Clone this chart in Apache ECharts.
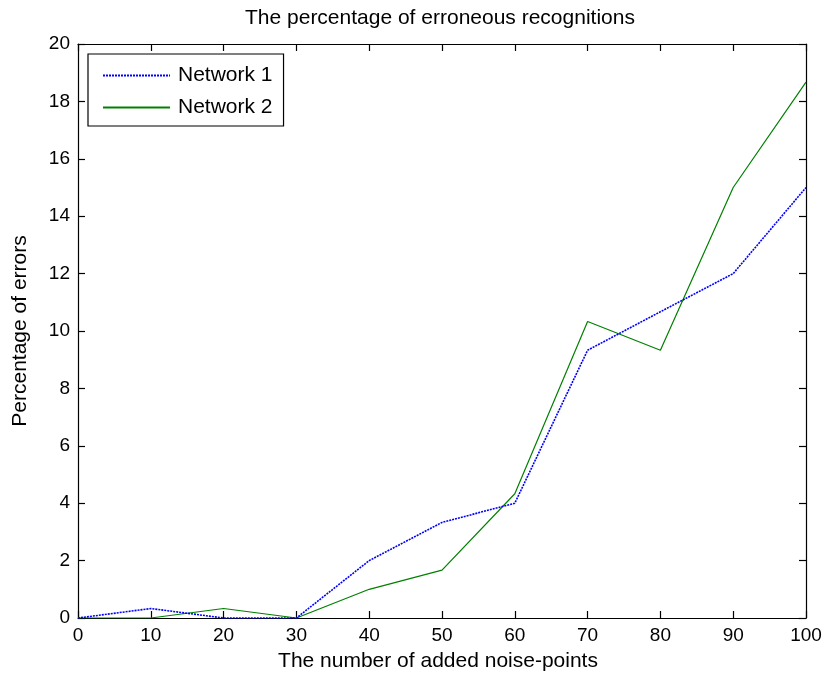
<!DOCTYPE html>
<html>
<head>
<meta charset="utf-8">
<script src="https://cdn.jsdelivr.net/npm/echarts@6/dist/echarts.min.js"></script>
<style>
html,body{margin:0;padding:0;background:#fff;}
#chart{width:827px;height:677px;}
</style>
</head>
<body>
<div id="chart"></div>
<script>
var noisePoints = [0, 10, 20, 30, 40, 50, 60, 70, 80, 90, 100];
var network1 = [0, 0.33, 0, 0, 2.0, 3.33, 4.0, 9.33, 10.67, 12.0, 15.0];
var network2 = [0, 0, 0.33, 0, 1.0, 1.67, 4.33, 10.33, 9.33, 15.0, 18.67];
var seriesNames = ['Network 1', 'Network 2'];
var titleText = 'The percentage of erroneous recognitions';
var xName = 'The number of added noise-points';
var yName = 'Percentage of errors';

function pairs(xs, ys) { return xs.map(function (x, i) { return [x, ys[i]]; }); }

var FONT = 'Liberation Sans, Arial, sans-serif';
var chart = echarts.init(document.getElementById('chart'), null, {renderer: 'canvas'});

var axisCommon = {
  axisLine: {show: true, onZero: false, lineStyle: {color: '#000', width: 1.2}},
  axisTick: {show: true, inside: true, length: 7, lineStyle: {color: '#000', width: 1.2}},
  splitLine: {show: false}
};

chart.setOption({
  animation: false,
  backgroundColor: '#fff',
  title: {
    text: titleText,
    left: 240,
    top: 3,
    textStyle: {fontFamily: FONT, fontSize: 21, fontWeight: 'normal', color: '#000'}
  },
  legend: {
    data: seriesNames,
    orient: 'vertical',
    left: 88,
    top: 54,
    itemWidth: 67,
    itemHeight: 14,
    itemGap: 11,
    padding: [11, 11, 8, 14],
    borderColor: '#000',
    borderWidth: 1.2,
    backgroundColor: '#fff',
    itemStyle: {color: 'rgba(0,0,0,0)', borderWidth: 0, opacity: 0},
    textStyle: {fontFamily: FONT, fontSize: 21, color: '#000', padding: [0, 0, 0, 3]}
  },
  grid: {left: 78, right: 21, top: 44, bottom: 59, containLabel: false},
  xAxis: [
    Object.assign({
      type: 'value', min: 0, max: 100, interval: 10, position: 'bottom',
      name: xName, nameLocation: 'middle', nameGap: 33,
      nameTextStyle: {fontFamily: FONT, fontSize: 21, color: '#000', padding: [0, 8, 0, 0]},
      axisLabel: {fontFamily: FONT, fontSize: 19, color: '#000', margin: 8}
    }, axisCommon),
    Object.assign({
      type: 'value', min: 0, max: 100, interval: 10, position: 'top',
      axisLabel: {show: false}
    }, axisCommon)
  ],
  yAxis: [
    Object.assign({
      type: 'value', min: 0, max: 20, interval: 2, position: 'left',
      name: yName, nameLocation: 'middle', nameGap: 47,
      nameTextStyle: {fontFamily: FONT, fontSize: 21, color: '#000'},
      axisLabel: {fontFamily: FONT, fontSize: 19, color: '#000', margin: 8}
    }, axisCommon),
    Object.assign({
      type: 'value', min: 0, max: 20, interval: 2, position: 'right',
      axisLabel: {show: false}
    }, axisCommon)
  ],
  series: [
    {
      name: seriesNames[0], type: 'line', xAxisIndex: 0, yAxisIndex: 0,
      data: pairs(noisePoints, network1), symbol: 'circle', showSymbol: false, z: 3,
      lineStyle: {color: '#0000ff', width: 1.6, type: [2, 1]},
      itemStyle: {color: '#0000ff'}
    },
    {
      name: seriesNames[1], type: 'line', xAxisIndex: 0, yAxisIndex: 0,
      data: pairs(noisePoints, network2), symbol: 'circle', showSymbol: false, z: 2,
      lineStyle: {color: '#008000', width: 1.2, type: 'solid'},
      itemStyle: {color: '#008000'}
    }
  ]
});
</script>
</body>
</html>
